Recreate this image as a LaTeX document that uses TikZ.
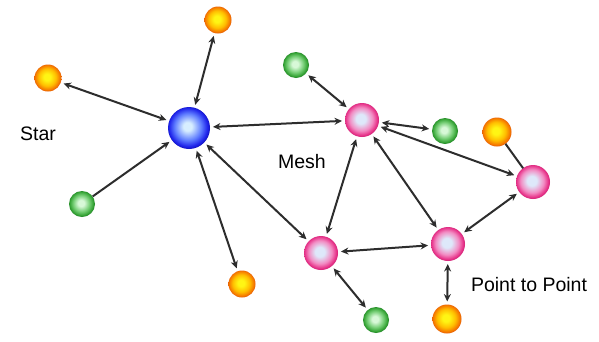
\documentclass[tikz,border=0pt]{standalone}
\usepackage{fontspec}
\setmainfont{Liberation Sans}
\usetikzlibrary{arrows.meta}
\definecolor{blueC}{RGB}{215,238,255}
\definecolor{blueM}{RGB}{95,125,255}
\definecolor{blueO}{RGB}{30,35,235}
\definecolor{blueD}{RGB}{15,15,170}
\definecolor{pinkC}{RGB}{222,232,250}
\definecolor{pinkM}{RGB}{242,140,195}
\definecolor{pinkO}{RGB}{232,55,140}
\definecolor{pinkD}{RGB}{200,25,110}
\definecolor{orC}{RGB}{255,245,20}
\definecolor{orM}{RGB}{255,190,0}
\definecolor{orO}{RGB}{245,120,0}
\definecolor{orD}{RGB}{220,80,10}
\definecolor{grC}{RGB}{215,248,215}
\definecolor{grM}{RGB}{115,205,115}
\definecolor{grO}{RGB}{50,160,50}
\definecolor{grD}{RGB}{25,115,35}
\definecolor{linkgray}{RGB}{45,45,45}
\pgfdeclareradialshading{blueball}{\pgfpoint{-2bp}{2bp}}{color(0bp)=(blueC); color(5bp)=(blueC); color(16bp)=(blueM); color(23bp)=(blueO); color(27bp)=(blueD); color(50bp)=(blueD)}
\pgfdeclareradialshading{pinkball}{\pgfpoint{-2bp}{2bp}}{color(0bp)=(pinkC); color(7bp)=(pinkC); color(17bp)=(pinkM); color(23bp)=(pinkO); color(27bp)=(pinkD); color(50bp)=(pinkD)}
\pgfdeclareradialshading{orangeball}{\pgfpoint{-2bp}{2bp}}{color(0bp)=(orC); color(6bp)=(orC); color(16bp)=(orM); color(23bp)=(orO); color(27bp)=(orD); color(50bp)=(orD)}
\pgfdeclareradialshading{greenball}{\pgfpoint{-2bp}{2bp}}{color(0bp)=(grC); color(6bp)=(grC); color(16bp)=(grM); color(23bp)=(grO); color(27bp)=(grD); color(50bp)=(grD)}
\begin{document}
\begin{tikzpicture}[x=1pt,y=-1pt,
  ball/.style={circle, inner sep=0pt, outer sep=0pt, minimum size=#1},
  bluenode/.style={ball=42pt, shading=blueball},
  pinknode/.style={ball=34pt, shading=pinkball},
  orangenode/.style={ball=27pt, shading=orangeball},
  greennode/.style={ball=26pt, shading=greenball},
  link/.style={draw=linkgray, line width=2pt, {Stealth[length=7.5pt,width=7pt]}-{Stealth[length=7.5pt,width=7pt]}, shorten <=3pt, shorten >=3pt},
  onelink/.style={draw=linkgray, line width=2pt, -{Stealth[length=7.5pt,width=7pt]}, shorten >=3pt},
  plainlink/.style={draw=linkgray, line width=2pt},
  lbl/.style={font=\fontsize{19.5}{23}\selectfont, inner sep=0pt}]
\useasboundingbox (0,0) rectangle (599,341);
\fill[white] (0,0) rectangle (599,341);
% nodes
\node[bluenode] (B) at (189,128) {};
\node[orangenode] (O1) at (218,20) {};
\node[orangenode] (O2) at (48,78) {};
\node[greennode] (G1) at (82,204) {};
\node[orangenode] (O3) at (242,284) {};
\node[pinknode] (P1) at (362,120) {};
\node[greennode] (G2) at (296,65) {};
\node[greennode] (G3) at (445,131) {};
\node[orangenode, minimum size=29pt] (O4) at (497,132) {};
\node[pinknode] (P2) at (533,182) {};
\node[pinknode] (P3) at (321,253) {};
\node[pinknode] (P4) at (448,244) {};
\node[greennode] (G4) at (376,320) {};
\node[orangenode, minimum size=29pt] (O5) at (447,319) {};
% labels
\node[lbl] (star) at (38,134) {Star};
\node[lbl] (mesh) at (302,162) {Mesh};
\node[lbl] (ptp) at (529,285) {Point to Point};
% connectors
\draw[link] (B) -- (O1);
\draw[link] (B) -- (O2);
\draw[onelink] (G1) -- (B);
\draw[link] (B) -- (O3);
\draw[link] (B) -- (P1);
\draw[link] (B) -- (P3);
\draw[link] (P1) -- (G2);
\draw[link] (P1) -- (G3);
\draw[link] (P1) -- (P2);
\draw[link] (P1) -- (P4);
\draw[link] (P1) -- (P3);
\draw[link] (P3) -- (P4);
\draw[link] (P3) -- (G4);
\draw[link] (P4) -- (O5);
\draw[link] (P4) -- (P2);
\draw[plainlink] (O4) -- (P2);
\end{tikzpicture}
\end{document}
